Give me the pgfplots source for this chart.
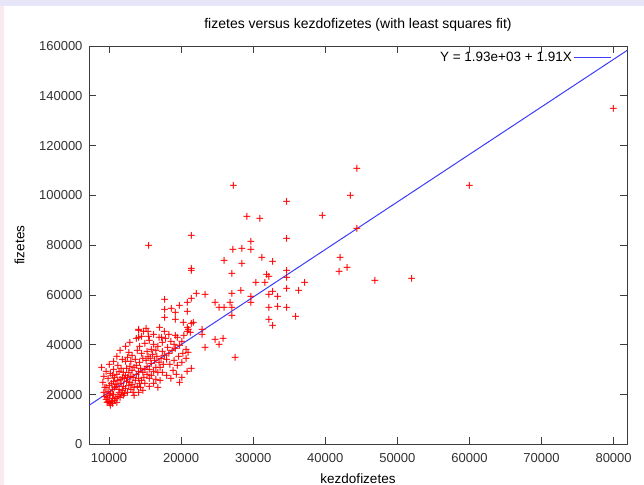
\documentclass[border=0pt]{standalone}
\usepackage{pgfplots}
\pgfplotsset{compat=1.18}
\usepackage{fontspec}
\setmainfont{Liberation Sans}
\definecolor{fitblue}{RGB}{60,60,250}
\definecolor{pointred}{RGB}{255,0,0}
\definecolor{axisgray}{RGB}{60,60,60}
\definecolor{topband}{RGB}{230,230,248}
\definecolor{sideband}{RGB}{249,234,241}

% salary against starting salary
\pgfplotstableread{
x y
9000 30750
9750 16950
10200 15750
10200 16200
9900 17100
10050 16650
10500 16350
10350 17250
9600 18150
9450 19200
9750 18750
10050 19650
10500 18450
10800 17700
11100 16800
10950 18300
10650 19950
9300 20850
9900 21300
10200 20400
10500 21900
11250 19350
11550 18900
11400 20700
11700 20100
11850 21600
12000 19800
10800 22650
11100 23250
11400 22200
9600 22800
10050 23700
10350 24600
10650 25350
10950 24000
11250 25800
11700 24450
12000 23100
12300 22500
12600 21000
12150 20250
12750 23700
13050 22050
13350 20850
12450 25050
12900 24900
13200 24150
13500 22800
13650 25500
12150 26400
11850 27000
11550 26100
10800 26850
10500 27600
11100 28200
11400 29100
9900 26250
10200 28500
12000 28650
12300 27450
12600 26700
12750 28800
13050 27150
13350 26850
13800 27900
14100 26250
14250 24600
14550 25800
14850 27000
15000 24300
13950 23400
14400 22650
13200 29550
12450 30300
12900 31200
11700 30450
11250 31650
10650 30000
13500 30750
13800 31800
14100 29400
14400 30600
14700 28650
15000 29850
15300 28200
15600 26550
15900 27750
15300 31200
15600 30150
15900 32400
16200 29400
16500 31050
16800 28650
14250 33000
13650 34050
13050 33450
12600 34800
12300 33150
11850 33900
14700 34650
15150 33750
15450 35400
15750 34350
16050 36000
16350 33600
16650 35100
16950 33000
17250 34500
17550 32250
17100 30900
17400 37200
17700 35850
18000 34200
18300 36600
18150 38700
16500 37800
15900 38250
15300 37200
14550 36450
13950 37500
13200 35850
12750 37050
14250 39300
15000 40500
15600 41550
16200 40050
16800 39450
17400 40800
17850 42300
18600 41100
19050 40050
19500 42900
19200 38550
18750 37650
19800 39750
20100 41400
20400 43500
20700 38100
20250 36300
19650 35100
19050 33750
18450 31950
18900 29700
19500 31500
20100 32700
20700 34500
21000 36900
16950 43050
16200 44250
15450 45150
14550 43350
13800 42450
15150 46500
14100 45900
17700 45450
18300 44250
12900 40950
12300 39300
11550 37500
11100 35250
10650 33300
10050 31950
9600 29400
9300 27300
9150 24750
9450 22950
17100 25800
16500 26100
18000 27600
17400 28800
13500 19500
14100 20850
14700 21750
15600 23100
16200 24450
16800 22800
19350 27900
20100 26700
20850 29100
21450 30600
19800 24900
18600 26400
14130 46120
14820 45310
17020 46920
15510 43310
14130 42910
17300 42910
19230 43710
20880 45310
20880 46920
17710 50930
19230 50130
20330 48920
17710 54140
18670 54540
19230 52930
20880 53330
17710 58150
19780 55740
20880 56940
21430 58550
21710 48920
21430 48520
21020 46120
21290 44910
22940 46120
22940 44110
24730 42100
25830 42500
25280 40100
23360 38900
27490 34890
22120 60550
23360 60150
24730 56940
25280 54940
25970 54940
26800 56940
27070 54940
27070 51730
27070 60550
28310 61750
29690 59350
29690 56940
30380 64960
31620 64960
32170 60150
32170 54940
32170 50130
32720 47720
32720 61350
33410 59350
33410 55340
34650 54940
34650 62560
34650 66970
34650 69770
35890 51330
36300 61750
37130 64960
31890 68170
32170 67370
27070 68570
21430 69770
21430 70580
25970 73780
28450 72580
31200 74990
32720 73380
27210 78200
28450 78600
29690 78200
29690 81400
34650 82600
15500 79800
21430 83810
29140 91430
30930 90630
34650 97440
27250 103750
39600 92000
42080 75000
41950 69370
43050 70980
46900 65760
52000 66570
44400 86600
43500 100000
44400 110625
60000 103750
79980 135000
}\salarytable

\begin{document}
\begin{tikzpicture}
\path[use as bounding box] (-89bp,-40.5bp) rectangle (555bp,444.5bp);
\fill[white] (-89bp,-40.5bp) rectangle (555bp,444.5bp);
\fill[topband] (-89bp,438.5bp) rectangle (555bp,444.5bp);
\fill[sideband] (-89bp,-40.5bp) rectangle (-85bp,438.5bp);
\begin{axis}[
  scale only axis,
  width=538bp, height=398.5bp,
  xmin=7220, xmax=81860,
  ymin=0, ymax=160000,
  xtick={10000,20000,...,80000},
  ytick={0,20000,...,160000},
  scaled ticks=false,
  /pgf/number format/fixed,
  /pgf/number format/precision=0,
  /pgf/number format/1000 sep={},
  /pgf/number format/assume math mode=true,
  tick align=inside,
  major tick length=7bp,
  axis line style={axisgray, line width=0.9bp},
  every tick/.style={axisgray, line width=0.9bp},
  font=\fontsize{13.5bp}{16bp}\selectfont,
  tick label style={font=\fontsize{13bp}{15bp}\selectfont, text=black!80},
  xticklabel style={yshift=-5bp},
  yticklabel style={xshift=-3bp},
  title={fizetes versus kezdofizetes (with least squares fit)},
  title style={at={(axis description cs:0.5,1.028)}, anchor=base, font=\fontsize{14bp}{16bp}\selectfont},
  xlabel={kezdofizetes},
  xlabel style={at={(axis description cs:0.5,-0.0977)}, anchor=base},
  ylabel={fizetes},
  ylabel style={at={(axis description cs:-0.129,0.5)}, anchor=center},
  legend style={at={(axis description cs:1,1)}, anchor=north east, draw=none, fill=none,
    font=\fontsize{13.5bp}{16bp}\selectfont, xshift=-12bp, yshift=-2bp},
  legend cell align=right,
  legend plot pos=right,
  legend image code/.code={\draw[#1] (0bp,0bp) -- (37bp,0bp);},
]
\addplot[only marks, mark=text, text mark={+}, text mark as node=true,
  text mark style={font=\fontsize{14bp}{14bp}\selectfont, text=pointred,
    inner sep=0pt, anchor=center, yshift=-0.8bp},
  forget plot] table[x=x, y=y] {\salarytable};
\addplot[color=fitblue, line width=1bp] coordinates {(7220,15711) (81860,158199)};
\addlegendentry{Y = 1.93e+03 + 1.91X}
\end{axis}
\end{tikzpicture}
\end{document}
